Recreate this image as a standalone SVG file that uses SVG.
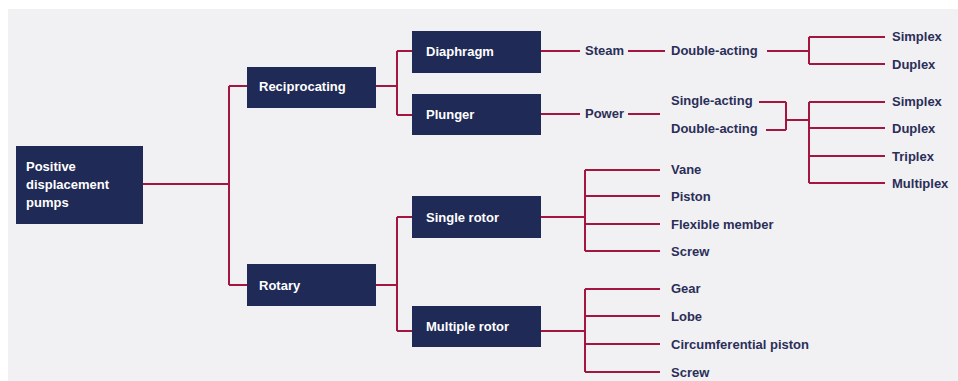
<svg xmlns="http://www.w3.org/2000/svg" width="958" height="381" viewBox="0 0 958 381">
<style>
.node{fill:#1f2a56}
.nt{fill:#ffffff;font-family:"Liberation Sans",Arial,sans-serif;font-weight:bold;font-size:13px}
.lb{fill:#2b2e57;font-family:"Liberation Sans",Arial,sans-serif;font-weight:bold;font-size:13px}
.cn{fill:none;stroke:#a3163f;stroke-width:2}
</style>
<rect x="0" y="0" width="958" height="381" fill="#ffffff"/>
<rect x="8" y="9" width="950" height="372" fill="#f1f1f4"/>
<g id="connectors" class="cn">
<path d="M143,184H229M229,86V285M229,86H247M229,285H247"/>
<path d="M376,86H397M397,51V115M397,51H412M397,115H412"/>
<path d="M376,285H397M397,217V331M397,217H412M397,331H412"/>
<path d="M541,51H580M628,51H665M767,51H809M809,37V64M809,37H885M809,64H885"/>
<path d="M541,114H580M628,114H660"/>
<path d="M759,102H786M766,130H786M786,102V130M786,120H809M809,102V183M809,102H885M809,128H885M809,156H885M809,183H885"/>
<path d="M541,217H585M585,170V251M585,170H660M585,196H660M585,224H660M585,251H660"/>
<path d="M541,331H585M585,289V372M585,289H660M585,316H660M585,344H660M585,372H660"/>
</g>
<g id="n-root"><rect class="node" x="16" y="146" width="127" height="78"/><text class="nt" x="26" y="171">Positive</text><text class="nt" x="26" y="189">displacement</text><text class="nt" x="26" y="207">pumps</text></g>
<g id="n-reciprocating"><rect class="node" x="247" y="67" width="129" height="41"/><text class="nt" x="259" y="91">Reciprocating</text></g>
<g id="n-rotary"><rect class="node" x="247" y="264" width="129" height="42"/><text class="nt" x="259" y="290">Rotary</text></g>
<g id="n-diaphragm"><rect class="node" x="412" y="31" width="129" height="42"/><text class="nt" x="426" y="56">Diaphragm</text></g>
<g id="n-plunger"><rect class="node" x="412" y="94" width="129" height="41"/><text class="nt" x="426" y="119">Plunger</text></g>
<g id="n-single-rotor"><rect class="node" x="412" y="196" width="129" height="42"/><text class="nt" x="426" y="222">Single rotor</text></g>
<g id="n-multiple-rotor"><rect class="node" x="412" y="306" width="129" height="41"/><text class="nt" x="426" y="331">Multiple rotor</text></g>
<g id="n-steam"><text class="lb" x="585" y="55">Steam</text></g>
<g id="n-double-acting-1"><text class="lb" x="671" y="55">Double-acting</text></g>
<g id="n-simplex-1"><text class="lb" x="892" y="41">Simplex</text></g>
<g id="n-duplex-1"><text class="lb" x="892" y="69">Duplex</text></g>
<g id="n-power"><text class="lb" x="585" y="118">Power</text></g>
<g id="n-single-acting"><text class="lb" x="671" y="105">Single-acting</text></g>
<g id="n-double-acting-2"><text class="lb" x="671" y="133">Double-acting</text></g>
<g id="n-simplex-2"><text class="lb" x="892" y="106">Simplex</text></g>
<g id="n-duplex-2"><text class="lb" x="892" y="133">Duplex</text></g>
<g id="n-triplex"><text class="lb" x="892" y="161">Triplex</text></g>
<g id="n-multiplex"><text class="lb" x="892" y="188">Multiplex</text></g>
<g id="n-vane"><text class="lb" x="671" y="174">Vane</text></g>
<g id="n-piston"><text class="lb" x="671" y="201">Piston</text></g>
<g id="n-flexible-member"><text class="lb" x="671" y="229">Flexible member</text></g>
<g id="n-screw-1"><text class="lb" x="671" y="256">Screw</text></g>
<g id="n-gear"><text class="lb" x="671" y="293">Gear</text></g>
<g id="n-lobe"><text class="lb" x="671" y="321">Lobe</text></g>
<g id="n-circumferential-piston"><text class="lb" x="671" y="349">Circumferential piston</text></g>
<g id="n-screw-2"><text class="lb" x="671" y="377">Screw</text></g>
</svg>
